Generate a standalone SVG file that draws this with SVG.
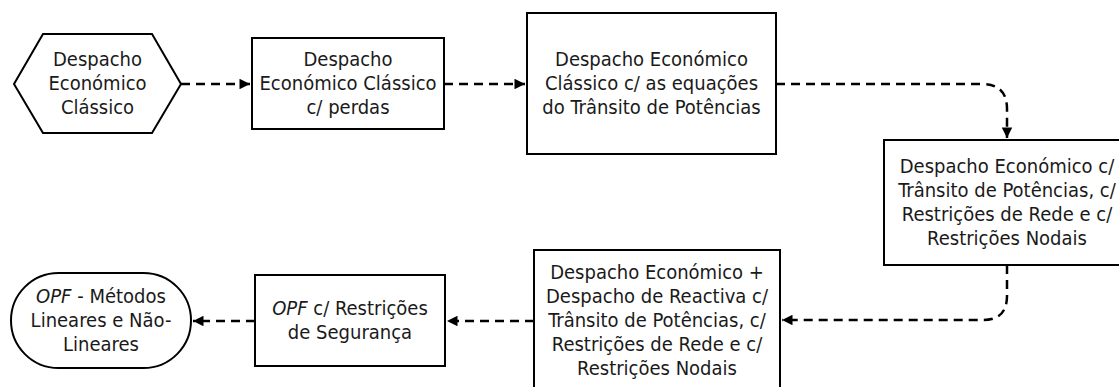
<svg xmlns="http://www.w3.org/2000/svg" width="1119" height="387" viewBox="0 0 1119 387">
<style>
.n{fill:#fff;stroke:#000;stroke-width:2}
.t{font-family:"DejaVu Sans Condensed","DejaVu Sans",sans-serif;font-size:20px;fill:#1a1a1a;text-anchor:middle}
.c{fill:none;stroke:#000;stroke-width:2.5;stroke-dasharray:9 6}
</style>
<defs>
<marker id="a" viewBox="0 0 10 10" refX="10" refY="5" markerWidth="4.4" markerHeight="4.2" orient="auto" markerUnits="strokeWidth">
<path d="M0,0L10,5L0,10z" fill="#000"/>
</marker>
</defs>
<rect width="1119" height="387" fill="#fff"/>
<g id="connectors">
<path class="c" d="M181,84H250" marker-end="url(#a)"/>
<path class="c" d="M444,84H525" marker-end="url(#a)"/>
<path class="c" d="M776,84H982Q1007,84 1007,109V138" marker-end="url(#a)"/>
<path class="c" d="M1007,265V296Q1007,320 983,320H782" marker-end="url(#a)"/>
<path class="c" d="M534,321H447" marker-end="url(#a)"/>
<path class="c" d="M255,321H193" marker-end="url(#a)"/>
</g>
<g id="n1">
<polygon class="n" points="14,84 43,34 152,34 181,84 152,133 43,133"/>
<text class="t" x="97.5" y="66">Despacho</text>
<text class="t" x="97.5" y="90">Económico</text>
<text class="t" x="97.5" y="114">Clássico</text>
</g>
<g id="n2">
<rect class="n" x="252" y="38" width="192" height="91"/>
<text class="t" x="348" y="66">Despacho</text>
<text class="t" x="348" y="90">Económico Clássico</text>
<text class="t" x="348" y="114">c/ perdas</text>
</g>
<g id="n3">
<rect class="n" x="527" y="13" width="249" height="141"/>
<text class="t" x="651.5" y="66">Despacho Económico</text>
<text class="t" x="651.5" y="90">Clássico c/ as equações</text>
<text class="t" x="651.5" y="114">do Trânsito de Potências</text>
</g>
<g id="n4">
<rect class="n" x="884" y="140" width="246" height="125"/>
<text class="t" x="1007" y="173">Despacho Económico c/</text>
<text class="t" x="1007" y="197">Trânsito de Potências, c/</text>
<text class="t" x="1007" y="221">Restrições de Rede e c/</text>
<text class="t" x="1007" y="245">Restrições Nodais</text>
</g>
<g id="n5">
<rect class="n" x="534" y="250" width="246" height="145"/>
<text class="t" x="657" y="279">Despacho Económico +</text>
<text class="t" x="657" y="303">Despacho de Reactiva c/</text>
<text class="t" x="657" y="327">Trânsito de Potências, c/</text>
<text class="t" x="657" y="351">Restrições de Rede e c/</text>
<text class="t" x="657" y="375">Restrições Nodais</text>
</g>
<g id="n6">
<rect class="n" x="255" y="275" width="190" height="91"/>
<text class="t" x="350" y="315"><tspan font-style="italic">OPF</tspan> c/ Restrições</text>
<text class="t" x="350" y="339">de Segurança</text>
</g>
<g id="n7">
<rect class="n" x="11" y="273" width="180" height="95" rx="47.5" ry="47.5"/>
<text class="t" x="101" y="303"><tspan font-style="italic">OPF</tspan> - Métodos</text>
<text class="t" x="101" y="327">Lineares e Não-</text>
<text class="t" x="101" y="351">Lineares</text>
</g>
</svg>
